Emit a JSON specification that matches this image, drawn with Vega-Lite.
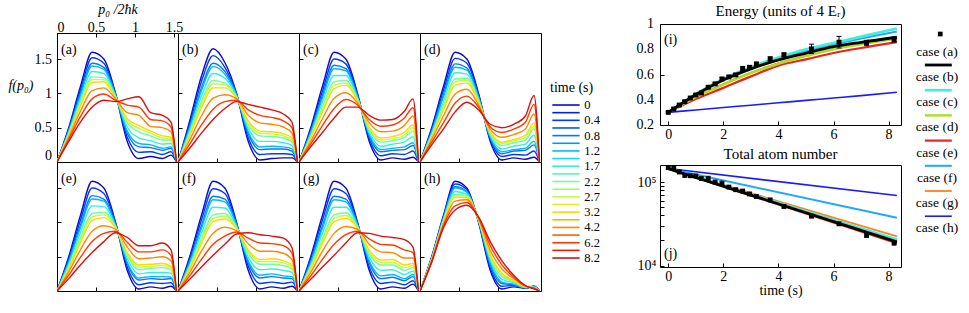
{
"$schema":"https://vega.github.io/schema/vega-lite/v6.json",
"padding":{"left":7,"top":1,"right":4,"bottom":0},
"config":{
"font":"Liberation Serif",
"view":{"stroke":"#000","strokeWidth":1},
"axis":{"domain":false,"grid":false,"ticks":true,"tickSize":-4,"tickColor":"#000","tickWidth":1,"labelColor":"#000","labelFontSize":14,"labelFont":"Liberation Serif","titleFont":"Liberation Serif","titleFontSize":14,"titleFontWeight":"normal","titleColor":"#000","labelOverlap":false},
"title":{"font":"Liberation Serif","fontSize":15,"fontWeight":"normal","color":"#000"},
"line":{"interpolate":"monotone"},
"text":{"font":"Liberation Serif","color":"#000"}
},
"datasets":{
"a":[
{"t":0,"p":0,"f":0},{"t":0,"p":0.15,"f":0.5},{"t":0,"p":0.3,"f":1.1},{"t":0,"p":0.45,"f":1.6},{"t":0,"p":0.6,"f":1.5},{"t":0,"p":0.75,"f":1.0},{"t":0,"p":0.9,"f":0.3},{"t":0,"p":1.05,"f":0.05},{"t":0,"p":1.2,"f":0.08},{"t":0,"p":1.35,"f":0.05},{"t":0,"p":1.46,"f":0.1},{"t":0,"p":1.53,"f":0},
{"t":0.4,"p":0,"f":0},{"t":0.4,"p":0.15,"f":0.48},{"t":0.4,"p":0.3,"f":1.05},{"t":0.4,"p":0.45,"f":1.52},{"t":0.4,"p":0.6,"f":1.44},{"t":0.4,"p":0.75,"f":0.99},{"t":0.4,"p":0.9,"f":0.36},{"t":0.4,"p":1.05,"f":0.14},{"t":0.4,"p":1.2,"f":0.15},{"t":0.4,"p":1.35,"f":0.11},{"t":0.4,"p":1.46,"f":0.15},{"t":0.4,"p":1.53,"f":0},
{"t":0.8,"p":0,"f":0},{"t":0.8,"p":0.15,"f":0.46},{"t":0.8,"p":0.3,"f":1.0},{"t":0.8,"p":0.45,"f":1.44},{"t":0.8,"p":0.6,"f":1.38},{"t":0.8,"p":0.75,"f":0.98},{"t":0.8,"p":0.9,"f":0.42},{"t":0.8,"p":1.05,"f":0.22},{"t":0.8,"p":1.2,"f":0.21},{"t":0.8,"p":1.35,"f":0.17},{"t":0.8,"p":1.46,"f":0.2},{"t":0.8,"p":1.53,"f":0},
{"t":1.2,"p":0,"f":0},{"t":1.2,"p":0.15,"f":0.45},{"t":1.2,"p":0.3,"f":0.97},{"t":1.2,"p":0.45,"f":1.4},{"t":1.2,"p":0.6,"f":1.35},{"t":1.2,"p":0.75,"f":0.97},{"t":1.2,"p":0.9,"f":0.45},{"t":1.2,"p":1.05,"f":0.27},{"t":1.2,"p":1.2,"f":0.25},{"t":1.2,"p":1.35,"f":0.2},{"t":1.2,"p":1.46,"f":0.22},{"t":1.2,"p":1.53,"f":0},
{"t":1.7,"p":0,"f":0},{"t":1.7,"p":0.15,"f":0.43},{"t":1.7,"p":0.3,"f":0.92},{"t":1.7,"p":0.45,"f":1.32},{"t":1.7,"p":0.6,"f":1.29},{"t":1.7,"p":0.75,"f":0.96},{"t":1.7,"p":0.9,"f":0.51},{"t":1.7,"p":1.05,"f":0.35},{"t":1.7,"p":1.2,"f":0.31},{"t":1.7,"p":1.35,"f":0.26},{"t":1.7,"p":1.46,"f":0.27},{"t":1.7,"p":1.53,"f":0},
{"t":2.2,"p":0,"f":0},{"t":2.2,"p":0.15,"f":0.41},{"t":2.2,"p":0.3,"f":0.87},{"t":2.2,"p":0.45,"f":1.24},{"t":2.2,"p":0.6,"f":1.23},{"t":2.2,"p":0.75,"f":0.95},{"t":2.2,"p":0.9,"f":0.57},{"t":2.2,"p":1.05,"f":0.44},{"t":2.2,"p":1.2,"f":0.38},{"t":2.2,"p":1.35,"f":0.32},{"t":2.2,"p":1.46,"f":0.32},{"t":2.2,"p":1.53,"f":0},
{"t":2.7,"p":0,"f":0},{"t":2.7,"p":0.15,"f":0.4},{"t":2.7,"p":0.3,"f":0.84},{"t":2.7,"p":0.45,"f":1.2},{"t":2.7,"p":0.6,"f":1.2},{"t":2.7,"p":0.75,"f":0.94},{"t":2.7,"p":0.9,"f":0.6},{"t":2.7,"p":1.05,"f":0.49},{"t":2.7,"p":1.2,"f":0.42},{"t":2.7,"p":1.35,"f":0.35},{"t":2.7,"p":1.46,"f":0.34},{"t":2.7,"p":1.53,"f":0},
{"t":3.2,"p":0,"f":0},{"t":3.2,"p":0.15,"f":0.39},{"t":3.2,"p":0.3,"f":0.81},{"t":3.2,"p":0.45,"f":1.16},{"t":3.2,"p":0.6,"f":1.17},{"t":3.2,"p":0.75,"f":0.93},{"t":3.2,"p":0.9,"f":0.63},{"t":3.2,"p":1.05,"f":0.53},{"t":3.2,"p":1.2,"f":0.45},{"t":3.2,"p":1.35,"f":0.38},{"t":3.2,"p":1.46,"f":0.36},{"t":3.2,"p":1.53,"f":0},
{"t":4.2,"p":0,"f":0},{"t":4.2,"p":0.15,"f":0.36},{"t":4.2,"p":0.3,"f":0.74},{"t":4.2,"p":0.45,"f":1.04},{"t":4.2,"p":0.6,"f":1.08},{"t":4.2,"p":0.75,"f":0.92},{"t":4.2,"p":0.9,"f":0.72},{"t":4.2,"p":1.05,"f":0.68},{"t":4.2,"p":1.2,"f":0.52},{"t":4.2,"p":1.35,"f":0.5},{"t":4.2,"p":1.46,"f":0.44},{"t":4.2,"p":1.53,"f":0},
{"t":6.2,"p":0,"f":0},{"t":6.2,"p":0.15,"f":0.33},{"t":6.2,"p":0.3,"f":0.66},{"t":6.2,"p":0.45,"f":0.92},{"t":6.2,"p":0.6,"f":0.99},{"t":6.2,"p":0.75,"f":0.9},{"t":6.2,"p":0.9,"f":0.83},{"t":6.2,"p":1.05,"f":0.8},{"t":6.2,"p":1.2,"f":0.62},{"t":6.2,"p":1.35,"f":0.6},{"t":6.2,"p":1.46,"f":0.51},{"t":6.2,"p":1.53,"f":0},
{"t":8.2,"p":0,"f":0},{"t":8.2,"p":0.15,"f":0.3},{"t":8.2,"p":0.3,"f":0.58},{"t":8.2,"p":0.45,"f":0.8},{"t":8.2,"p":0.6,"f":0.9},{"t":8.2,"p":0.75,"f":0.88},{"t":8.2,"p":0.9,"f":0.92},{"t":8.2,"p":1.05,"f":0.95},{"t":8.2,"p":1.2,"f":0.72},{"t":8.2,"p":1.35,"f":0.68},{"t":8.2,"p":1.46,"f":0.58},{"t":8.2,"p":1.53,"f":0}
],
"b":[
{"t":0,"p":0,"f":0},{"t":0,"p":0.15,"f":0.6},{"t":0,"p":0.3,"f":1.25},{"t":0,"p":0.45,"f":1.65},{"t":0,"p":0.6,"f":1.45},{"t":0,"p":0.75,"f":1.0},{"t":0,"p":0.9,"f":0.3},{"t":0,"p":1.05,"f":0.03},{"t":0,"p":1.2,"f":0.05},{"t":0,"p":1.35,"f":0.06},{"t":0,"p":1.46,"f":0.06},{"t":0,"p":1.53,"f":0},
{"t":0.4,"p":0,"f":0},{"t":0.4,"p":0.15,"f":0.56},{"t":0.4,"p":0.3,"f":1.17},{"t":0.4,"p":0.45,"f":1.55},{"t":0.4,"p":0.6,"f":1.38},{"t":0.4,"p":0.75,"f":0.99},{"t":0.4,"p":0.9,"f":0.35},{"t":0.4,"p":1.05,"f":0.11},{"t":0.4,"p":1.2,"f":0.12},{"t":0.4,"p":1.35,"f":0.12},{"t":0.4,"p":1.46,"f":0.11},{"t":0.4,"p":1.53,"f":0},
{"t":0.8,"p":0,"f":0},{"t":0.8,"p":0.15,"f":0.52},{"t":0.8,"p":0.3,"f":1.08},{"t":0.8,"p":0.45,"f":1.44},{"t":0.8,"p":0.6,"f":1.32},{"t":0.8,"p":0.75,"f":0.98},{"t":0.8,"p":0.9,"f":0.41},{"t":0.8,"p":1.05,"f":0.18},{"t":0.8,"p":1.2,"f":0.19},{"t":0.8,"p":1.35,"f":0.19},{"t":0.8,"p":1.46,"f":0.16},{"t":0.8,"p":1.53,"f":0},
{"t":1.2,"p":0,"f":0},{"t":1.2,"p":0.15,"f":0.5},{"t":1.2,"p":0.3,"f":1.04},{"t":1.2,"p":0.45,"f":1.39},{"t":1.2,"p":0.6,"f":1.28},{"t":1.2,"p":0.75,"f":0.97},{"t":1.2,"p":0.9,"f":0.44},{"t":1.2,"p":1.05,"f":0.22},{"t":1.2,"p":1.2,"f":0.23},{"t":1.2,"p":1.35,"f":0.22},{"t":1.2,"p":1.46,"f":0.19},{"t":1.2,"p":1.53,"f":0},
{"t":1.7,"p":0,"f":0},{"t":1.7,"p":0.15,"f":0.46},{"t":1.7,"p":0.3,"f":0.96},{"t":1.7,"p":0.45,"f":1.29},{"t":1.7,"p":0.6,"f":1.22},{"t":1.7,"p":0.75,"f":0.96},{"t":1.7,"p":0.9,"f":0.49},{"t":1.7,"p":1.05,"f":0.3},{"t":1.7,"p":1.2,"f":0.3},{"t":1.7,"p":1.35,"f":0.28},{"t":1.7,"p":1.46,"f":0.24},{"t":1.7,"p":1.53,"f":0},
{"t":2.2,"p":0,"f":0},{"t":2.2,"p":0.15,"f":0.42},{"t":2.2,"p":0.3,"f":0.88},{"t":2.2,"p":0.45,"f":1.19},{"t":2.2,"p":0.6,"f":1.15},{"t":2.2,"p":0.75,"f":0.95},{"t":2.2,"p":0.9,"f":0.54},{"t":2.2,"p":1.05,"f":0.38},{"t":2.2,"p":1.2,"f":0.37},{"t":2.2,"p":1.35,"f":0.35},{"t":2.2,"p":1.46,"f":0.29},{"t":2.2,"p":1.53,"f":0},
{"t":2.7,"p":0,"f":0},{"t":2.7,"p":0.15,"f":0.4},{"t":2.7,"p":0.3,"f":0.84},{"t":2.7,"p":0.45,"f":1.14},{"t":2.7,"p":0.6,"f":1.12},{"t":2.7,"p":0.75,"f":0.94},{"t":2.7,"p":0.9,"f":0.57},{"t":2.7,"p":1.05,"f":0.42},{"t":2.7,"p":1.2,"f":0.41},{"t":2.7,"p":1.35,"f":0.38},{"t":2.7,"p":1.46,"f":0.32},{"t":2.7,"p":1.53,"f":0},
{"t":3.2,"p":0,"f":0},{"t":3.2,"p":0.15,"f":0.38},{"t":3.2,"p":0.3,"f":0.79},{"t":3.2,"p":0.45,"f":1.08},{"t":3.2,"p":0.6,"f":1.08},{"t":3.2,"p":0.75,"f":0.93},{"t":3.2,"p":0.9,"f":0.6},{"t":3.2,"p":1.05,"f":0.45},{"t":3.2,"p":1.2,"f":0.44},{"t":3.2,"p":1.35,"f":0.41},{"t":3.2,"p":1.46,"f":0.35},{"t":3.2,"p":1.53,"f":0},
{"t":4.2,"p":0,"f":0},{"t":4.2,"p":0.15,"f":0.32},{"t":4.2,"p":0.3,"f":0.67},{"t":4.2,"p":0.45,"f":0.93},{"t":4.2,"p":0.6,"f":0.98},{"t":4.2,"p":0.75,"f":0.92},{"t":4.2,"p":0.9,"f":0.68},{"t":4.2,"p":1.05,"f":0.57},{"t":4.2,"p":1.2,"f":0.55},{"t":4.2,"p":1.35,"f":0.51},{"t":4.2,"p":1.46,"f":0.42},{"t":4.2,"p":1.53,"f":0},
{"t":6.2,"p":0,"f":0},{"t":6.2,"p":0.15,"f":0.26},{"t":6.2,"p":0.3,"f":0.54},{"t":6.2,"p":0.45,"f":0.77},{"t":6.2,"p":0.6,"f":0.88},{"t":6.2,"p":0.75,"f":0.9},{"t":6.2,"p":0.9,"f":0.76},{"t":6.2,"p":1.05,"f":0.68},{"t":6.2,"p":1.2,"f":0.65},{"t":6.2,"p":1.35,"f":0.6},{"t":6.2,"p":1.46,"f":0.5},{"t":6.2,"p":1.53,"f":0},
{"t":8.2,"p":0,"f":0},{"t":8.2,"p":0.15,"f":0.2},{"t":8.2,"p":0.3,"f":0.42},{"t":8.2,"p":0.45,"f":0.62},{"t":8.2,"p":0.6,"f":0.78},{"t":8.2,"p":0.75,"f":0.88},{"t":8.2,"p":0.9,"f":0.84},{"t":8.2,"p":1.05,"f":0.8},{"t":8.2,"p":1.2,"f":0.76},{"t":8.2,"p":1.35,"f":0.7},{"t":8.2,"p":1.46,"f":0.58},{"t":8.2,"p":1.53,"f":0}
],
"c":[
{"t":0,"p":0,"f":0},{"t":0,"p":0.15,"f":0.5},{"t":0,"p":0.3,"f":1.1},{"t":0,"p":0.45,"f":1.6},{"t":0,"p":0.6,"f":1.5},{"t":0,"p":0.75,"f":1.0},{"t":0,"p":0.9,"f":0.3},{"t":0,"p":1.05,"f":0.03},{"t":0,"p":1.2,"f":0.06},{"t":0,"p":1.35,"f":0.04},{"t":0,"p":1.46,"f":0.07},{"t":0,"p":1.53,"f":0},
{"t":0.4,"p":0,"f":0},{"t":0.4,"p":0.15,"f":0.47},{"t":0.4,"p":0.3,"f":1.03},{"t":0.4,"p":0.45,"f":1.5},{"t":0.4,"p":0.6,"f":1.43},{"t":0.4,"p":0.75,"f":0.98},{"t":0.4,"p":0.9,"f":0.34},{"t":0.4,"p":1.05,"f":0.09},{"t":0.4,"p":1.2,"f":0.12},{"t":0.4,"p":1.35,"f":0.11},{"t":0.4,"p":1.46,"f":0.16},{"t":0.4,"p":1.53,"f":0},
{"t":0.8,"p":0,"f":0},{"t":0.8,"p":0.15,"f":0.44},{"t":0.8,"p":0.3,"f":0.97},{"t":0.8,"p":0.45,"f":1.41},{"t":0.8,"p":0.6,"f":1.36},{"t":0.8,"p":0.75,"f":0.96},{"t":0.8,"p":0.9,"f":0.38},{"t":0.8,"p":1.05,"f":0.15},{"t":0.8,"p":1.2,"f":0.17},{"t":0.8,"p":1.35,"f":0.18},{"t":0.8,"p":1.46,"f":0.24},{"t":0.8,"p":1.53,"f":0},
{"t":1.2,"p":0,"f":0},{"t":1.2,"p":0.15,"f":0.43},{"t":1.2,"p":0.3,"f":0.93},{"t":1.2,"p":0.45,"f":1.36},{"t":1.2,"p":0.6,"f":1.33},{"t":1.2,"p":0.75,"f":0.95},{"t":1.2,"p":0.9,"f":0.4},{"t":1.2,"p":1.05,"f":0.18},{"t":1.2,"p":1.2,"f":0.2},{"t":1.2,"p":1.35,"f":0.22},{"t":1.2,"p":1.46,"f":0.28},{"t":1.2,"p":1.53,"f":0},
{"t":1.7,"p":0,"f":0},{"t":1.7,"p":0.15,"f":0.4},{"t":1.7,"p":0.3,"f":0.87},{"t":1.7,"p":0.45,"f":1.26},{"t":1.7,"p":0.6,"f":1.26},{"t":1.7,"p":0.75,"f":0.93},{"t":1.7,"p":0.9,"f":0.43},{"t":1.7,"p":1.05,"f":0.23},{"t":1.7,"p":1.2,"f":0.26},{"t":1.7,"p":1.35,"f":0.29},{"t":1.7,"p":1.46,"f":0.37},{"t":1.7,"p":1.53,"f":0},
{"t":2.2,"p":0,"f":0},{"t":2.2,"p":0.15,"f":0.37},{"t":2.2,"p":0.3,"f":0.8},{"t":2.2,"p":0.45,"f":1.17},{"t":2.2,"p":0.6,"f":1.19},{"t":2.2,"p":0.75,"f":0.91},{"t":2.2,"p":0.9,"f":0.47},{"t":2.2,"p":1.05,"f":0.29},{"t":2.2,"p":1.2,"f":0.31},{"t":2.2,"p":1.35,"f":0.36},{"t":2.2,"p":1.46,"f":0.45},{"t":2.2,"p":1.53,"f":0},
{"t":2.7,"p":0,"f":0},{"t":2.7,"p":0.15,"f":0.36},{"t":2.7,"p":0.3,"f":0.77},{"t":2.7,"p":0.45,"f":1.12},{"t":2.7,"p":0.6,"f":1.15},{"t":2.7,"p":0.75,"f":0.9},{"t":2.7,"p":0.9,"f":0.49},{"t":2.7,"p":1.05,"f":0.32},{"t":2.7,"p":1.2,"f":0.34},{"t":2.7,"p":1.35,"f":0.39},{"t":2.7,"p":1.46,"f":0.5},{"t":2.7,"p":1.53,"f":0},
{"t":3.2,"p":0,"f":0},{"t":3.2,"p":0.15,"f":0.35},{"t":3.2,"p":0.3,"f":0.73},{"t":3.2,"p":0.45,"f":1.07},{"t":3.2,"p":0.6,"f":1.12},{"t":3.2,"p":0.75,"f":0.89},{"t":3.2,"p":0.9,"f":0.51},{"t":3.2,"p":1.05,"f":0.35},{"t":3.2,"p":1.2,"f":0.37},{"t":3.2,"p":1.35,"f":0.43},{"t":3.2,"p":1.46,"f":0.54},{"t":3.2,"p":1.53,"f":0},
{"t":4.2,"p":0,"f":0},{"t":4.2,"p":0.15,"f":0.3},{"t":4.2,"p":0.3,"f":0.63},{"t":4.2,"p":0.45,"f":0.93},{"t":4.2,"p":0.6,"f":1.01},{"t":4.2,"p":0.75,"f":0.86},{"t":4.2,"p":0.9,"f":0.57},{"t":4.2,"p":1.05,"f":0.44},{"t":4.2,"p":1.2,"f":0.45},{"t":4.2,"p":1.35,"f":0.53},{"t":4.2,"p":1.46,"f":0.67},{"t":4.2,"p":1.53,"f":0},
{"t":6.2,"p":0,"f":0},{"t":6.2,"p":0.15,"f":0.26},{"t":6.2,"p":0.3,"f":0.53},{"t":6.2,"p":0.45,"f":0.78},{"t":6.2,"p":0.6,"f":0.91},{"t":6.2,"p":0.75,"f":0.83},{"t":6.2,"p":0.9,"f":0.62},{"t":6.2,"p":1.05,"f":0.52},{"t":6.2,"p":1.2,"f":0.54},{"t":6.2,"p":1.35,"f":0.64},{"t":6.2,"p":1.46,"f":0.79},{"t":6.2,"p":1.53,"f":0},
{"t":8.2,"p":0,"f":0},{"t":8.2,"p":0.15,"f":0.22},{"t":8.2,"p":0.3,"f":0.43},{"t":8.2,"p":0.45,"f":0.64},{"t":8.2,"p":0.6,"f":0.8},{"t":8.2,"p":0.75,"f":0.8},{"t":8.2,"p":0.9,"f":0.68},{"t":8.2,"p":1.05,"f":0.61},{"t":8.2,"p":1.2,"f":0.62},{"t":8.2,"p":1.35,"f":0.74},{"t":8.2,"p":1.46,"f":0.92},{"t":8.2,"p":1.53,"f":0}
],
"d":[
{"t":0,"p":0,"f":0},{"t":0,"p":0.15,"f":0.5},{"t":0,"p":0.3,"f":1.1},{"t":0,"p":0.45,"f":1.6},{"t":0,"p":0.6,"f":1.5},{"t":0,"p":0.75,"f":1.0},{"t":0,"p":0.9,"f":0.3},{"t":0,"p":1.05,"f":0.03},{"t":0,"p":1.2,"f":0.06},{"t":0,"p":1.35,"f":0.04},{"t":0,"p":1.46,"f":0.07},{"t":0,"p":1.53,"f":0},
{"t":0.4,"p":0,"f":0},{"t":0.4,"p":0.15,"f":0.48},{"t":0.4,"p":0.3,"f":1.04},{"t":0.4,"p":0.45,"f":1.51},{"t":0.4,"p":0.6,"f":1.44},{"t":0.4,"p":0.75,"f":0.98},{"t":0.4,"p":0.9,"f":0.33},{"t":0.4,"p":1.05,"f":0.08},{"t":0.4,"p":1.2,"f":0.11},{"t":0.4,"p":1.35,"f":0.1},{"t":0.4,"p":1.46,"f":0.16},{"t":0.4,"p":1.53,"f":0},
{"t":0.8,"p":0,"f":0},{"t":0.8,"p":0.15,"f":0.45},{"t":0.8,"p":0.3,"f":0.98},{"t":0.8,"p":0.45,"f":1.43},{"t":0.8,"p":0.6,"f":1.37},{"t":0.8,"p":0.75,"f":0.95},{"t":0.8,"p":0.9,"f":0.35},{"t":0.8,"p":1.05,"f":0.12},{"t":0.8,"p":1.2,"f":0.16},{"t":0.8,"p":1.35,"f":0.17},{"t":0.8,"p":1.46,"f":0.25},{"t":0.8,"p":1.53,"f":0},
{"t":1.2,"p":0,"f":0},{"t":1.2,"p":0.15,"f":0.44},{"t":1.2,"p":0.3,"f":0.95},{"t":1.2,"p":0.45,"f":1.38},{"t":1.2,"p":0.6,"f":1.34},{"t":1.2,"p":0.75,"f":0.94},{"t":1.2,"p":0.9,"f":0.36},{"t":1.2,"p":1.05,"f":0.15},{"t":1.2,"p":1.2,"f":0.18},{"t":1.2,"p":1.35,"f":0.2},{"t":1.2,"p":1.46,"f":0.3},{"t":1.2,"p":1.53,"f":0},
{"t":1.7,"p":0,"f":0},{"t":1.7,"p":0.15,"f":0.41},{"t":1.7,"p":0.3,"f":0.88},{"t":1.7,"p":0.45,"f":1.3},{"t":1.7,"p":0.6,"f":1.28},{"t":1.7,"p":0.75,"f":0.92},{"t":1.7,"p":0.9,"f":0.39},{"t":1.7,"p":1.05,"f":0.19},{"t":1.7,"p":1.2,"f":0.23},{"t":1.7,"p":1.35,"f":0.26},{"t":1.7,"p":1.46,"f":0.39},{"t":1.7,"p":1.53,"f":0},
{"t":2.2,"p":0,"f":0},{"t":2.2,"p":0.15,"f":0.39},{"t":2.2,"p":0.3,"f":0.82},{"t":2.2,"p":0.45,"f":1.21},{"t":2.2,"p":0.6,"f":1.22},{"t":2.2,"p":0.75,"f":0.89},{"t":2.2,"p":0.9,"f":0.41},{"t":2.2,"p":1.05,"f":0.24},{"t":2.2,"p":1.2,"f":0.28},{"t":2.2,"p":1.35,"f":0.32},{"t":2.2,"p":1.46,"f":0.48},{"t":2.2,"p":1.53,"f":0},
{"t":2.7,"p":0,"f":0},{"t":2.7,"p":0.15,"f":0.38},{"t":2.7,"p":0.3,"f":0.79},{"t":2.7,"p":0.45,"f":1.17},{"t":2.7,"p":0.6,"f":1.19},{"t":2.7,"p":0.75,"f":0.88},{"t":2.7,"p":0.9,"f":0.43},{"t":2.7,"p":1.05,"f":0.27},{"t":2.7,"p":1.2,"f":0.31},{"t":2.7,"p":1.35,"f":0.36},{"t":2.7,"p":1.46,"f":0.52},{"t":2.7,"p":1.53,"f":0},
{"t":3.2,"p":0,"f":0},{"t":3.2,"p":0.15,"f":0.36},{"t":3.2,"p":0.3,"f":0.76},{"t":3.2,"p":0.45,"f":1.12},{"t":3.2,"p":0.6,"f":1.15},{"t":3.2,"p":0.75,"f":0.87},{"t":3.2,"p":0.9,"f":0.44},{"t":3.2,"p":1.05,"f":0.29},{"t":3.2,"p":1.2,"f":0.33},{"t":3.2,"p":1.35,"f":0.39},{"t":3.2,"p":1.46,"f":0.57},{"t":3.2,"p":1.53,"f":0},
{"t":4.2,"p":0,"f":0},{"t":4.2,"p":0.15,"f":0.33},{"t":4.2,"p":0.3,"f":0.67},{"t":4.2,"p":0.45,"f":0.99},{"t":4.2,"p":0.6,"f":1.06},{"t":4.2,"p":0.75,"f":0.83},{"t":4.2,"p":0.9,"f":0.48},{"t":4.2,"p":1.05,"f":0.36},{"t":4.2,"p":1.2,"f":0.4},{"t":4.2,"p":1.35,"f":0.48},{"t":4.2,"p":1.46,"f":0.7},{"t":4.2,"p":1.53,"f":0},
{"t":6.2,"p":0,"f":0},{"t":6.2,"p":0.15,"f":0.29},{"t":6.2,"p":0.3,"f":0.57},{"t":6.2,"p":0.45,"f":0.86},{"t":6.2,"p":0.6,"f":0.96},{"t":6.2,"p":0.75,"f":0.8},{"t":6.2,"p":0.9,"f":0.51},{"t":6.2,"p":1.05,"f":0.43},{"t":6.2,"p":1.2,"f":0.48},{"t":6.2,"p":1.35,"f":0.58},{"t":6.2,"p":1.46,"f":0.84},{"t":6.2,"p":1.53,"f":0},
{"t":8.2,"p":0,"f":0},{"t":8.2,"p":0.15,"f":0.25},{"t":8.2,"p":0.3,"f":0.48},{"t":8.2,"p":0.45,"f":0.73},{"t":8.2,"p":0.6,"f":0.87},{"t":8.2,"p":0.75,"f":0.76},{"t":8.2,"p":0.9,"f":0.55},{"t":8.2,"p":1.05,"f":0.5},{"t":8.2,"p":1.2,"f":0.55},{"t":8.2,"p":1.35,"f":0.67},{"t":8.2,"p":1.46,"f":0.97},{"t":8.2,"p":1.53,"f":0}
],
"e":[
{"t":0,"p":0,"f":0},{"t":0,"p":0.15,"f":0.5},{"t":0,"p":0.3,"f":1.1},{"t":0,"p":0.45,"f":1.6},{"t":0,"p":0.6,"f":1.5},{"t":0,"p":0.75,"f":1.0},{"t":0,"p":0.9,"f":0.3},{"t":0,"p":1.05,"f":0.03},{"t":0,"p":1.2,"f":0.06},{"t":0,"p":1.35,"f":0.04},{"t":0,"p":1.46,"f":0.07},{"t":0,"p":1.53,"f":0},
{"t":0.4,"p":0,"f":0},{"t":0.4,"p":0.15,"f":0.47},{"t":0.4,"p":0.3,"f":1.03},{"t":0.4,"p":0.45,"f":1.5},{"t":0.4,"p":0.6,"f":1.42},{"t":0.4,"p":0.75,"f":0.99},{"t":0.4,"p":0.9,"f":0.35},{"t":0.4,"p":1.05,"f":0.09},{"t":0.4,"p":1.2,"f":0.12},{"t":0.4,"p":1.35,"f":0.11},{"t":0.4,"p":1.46,"f":0.12},{"t":0.4,"p":1.53,"f":0},
{"t":0.8,"p":0,"f":0},{"t":0.8,"p":0.15,"f":0.44},{"t":0.8,"p":0.3,"f":0.96},{"t":0.8,"p":0.45,"f":1.39},{"t":0.8,"p":0.6,"f":1.34},{"t":0.8,"p":0.75,"f":0.97},{"t":0.8,"p":0.9,"f":0.4},{"t":0.8,"p":1.05,"f":0.16},{"t":0.8,"p":1.2,"f":0.18},{"t":0.8,"p":1.35,"f":0.17},{"t":0.8,"p":1.46,"f":0.18},{"t":0.8,"p":1.53,"f":0},
{"t":1.2,"p":0,"f":0},{"t":1.2,"p":0.15,"f":0.42},{"t":1.2,"p":0.3,"f":0.92},{"t":1.2,"p":0.45,"f":1.34},{"t":1.2,"p":0.6,"f":1.31},{"t":1.2,"p":0.75,"f":0.96},{"t":1.2,"p":0.9,"f":0.42},{"t":1.2,"p":1.05,"f":0.19},{"t":1.2,"p":1.2,"f":0.21},{"t":1.2,"p":1.35,"f":0.21},{"t":1.2,"p":1.46,"f":0.2},{"t":1.2,"p":1.53,"f":0},
{"t":1.7,"p":0,"f":0},{"t":1.7,"p":0.15,"f":0.39},{"t":1.7,"p":0.3,"f":0.85},{"t":1.7,"p":0.45,"f":1.24},{"t":1.7,"p":0.6,"f":1.23},{"t":1.7,"p":0.75,"f":0.95},{"t":1.7,"p":0.9,"f":0.47},{"t":1.7,"p":1.05,"f":0.25},{"t":1.7,"p":1.2,"f":0.27},{"t":1.7,"p":1.35,"f":0.27},{"t":1.7,"p":1.46,"f":0.26},{"t":1.7,"p":1.53,"f":0},
{"t":2.2,"p":0,"f":0},{"t":2.2,"p":0.15,"f":0.36},{"t":2.2,"p":0.3,"f":0.78},{"t":2.2,"p":0.45,"f":1.13},{"t":2.2,"p":0.6,"f":1.15},{"t":2.2,"p":0.75,"f":0.93},{"t":2.2,"p":0.9,"f":0.52},{"t":2.2,"p":1.05,"f":0.31},{"t":2.2,"p":1.2,"f":0.33},{"t":2.2,"p":1.35,"f":0.34},{"t":2.2,"p":1.46,"f":0.31},{"t":2.2,"p":1.53,"f":0},
{"t":2.7,"p":0,"f":0},{"t":2.7,"p":0.15,"f":0.34},{"t":2.7,"p":0.3,"f":0.74},{"t":2.7,"p":0.45,"f":1.08},{"t":2.7,"p":0.6,"f":1.11},{"t":2.7,"p":0.75,"f":0.93},{"t":2.7,"p":0.9,"f":0.54},{"t":2.7,"p":1.05,"f":0.35},{"t":2.7,"p":1.2,"f":0.36},{"t":2.7,"p":1.35,"f":0.37},{"t":2.7,"p":1.46,"f":0.34},{"t":2.7,"p":1.53,"f":0},
{"t":3.2,"p":0,"f":0},{"t":3.2,"p":0.15,"f":0.32},{"t":3.2,"p":0.3,"f":0.7},{"t":3.2,"p":0.45,"f":1.03},{"t":3.2,"p":0.6,"f":1.07},{"t":3.2,"p":0.75,"f":0.92},{"t":3.2,"p":0.9,"f":0.56},{"t":3.2,"p":1.05,"f":0.38},{"t":3.2,"p":1.2,"f":0.39},{"t":3.2,"p":1.35,"f":0.4},{"t":3.2,"p":1.46,"f":0.36},{"t":3.2,"p":1.53,"f":0},
{"t":4.2,"p":0,"f":0},{"t":4.2,"p":0.15,"f":0.28},{"t":4.2,"p":0.3,"f":0.6},{"t":4.2,"p":0.45,"f":0.87},{"t":4.2,"p":0.6,"f":0.95},{"t":4.2,"p":0.75,"f":0.9},{"t":4.2,"p":0.9,"f":0.64},{"t":4.2,"p":1.05,"f":0.47},{"t":4.2,"p":1.2,"f":0.48},{"t":4.2,"p":1.35,"f":0.5},{"t":4.2,"p":1.46,"f":0.44},{"t":4.2,"p":1.53,"f":0},
{"t":6.2,"p":0,"f":0},{"t":6.2,"p":0.15,"f":0.23},{"t":6.2,"p":0.3,"f":0.49},{"t":6.2,"p":0.45,"f":0.72},{"t":6.2,"p":0.6,"f":0.84},{"t":6.2,"p":0.75,"f":0.87},{"t":6.2,"p":0.9,"f":0.71},{"t":6.2,"p":1.05,"f":0.57},{"t":6.2,"p":1.2,"f":0.57},{"t":6.2,"p":1.35,"f":0.6},{"t":6.2,"p":1.46,"f":0.52},{"t":6.2,"p":1.53,"f":0},
{"t":8.2,"p":0,"f":0},{"t":8.2,"p":0.15,"f":0.18},{"t":8.2,"p":0.3,"f":0.38},{"t":8.2,"p":0.45,"f":0.56},{"t":8.2,"p":0.6,"f":0.72},{"t":8.2,"p":0.75,"f":0.85},{"t":8.2,"p":0.9,"f":0.78},{"t":8.2,"p":1.05,"f":0.66},{"t":8.2,"p":1.2,"f":0.66},{"t":8.2,"p":1.35,"f":0.7},{"t":8.2,"p":1.46,"f":0.6},{"t":8.2,"p":1.53,"f":0}
],
"f":[
{"t":0,"p":0,"f":0},{"t":0,"p":0.15,"f":0.5},{"t":0,"p":0.3,"f":1.1},{"t":0,"p":0.45,"f":1.6},{"t":0,"p":0.6,"f":1.5},{"t":0,"p":0.75,"f":1.0},{"t":0,"p":0.9,"f":0.3},{"t":0,"p":1.05,"f":0.03},{"t":0,"p":1.2,"f":0.06},{"t":0,"p":1.35,"f":0.04},{"t":0,"p":1.46,"f":0.07},{"t":0,"p":1.53,"f":0},
{"t":0.4,"p":0,"f":0},{"t":0.4,"p":0.15,"f":0.47},{"t":0.4,"p":0.3,"f":1.03},{"t":0.4,"p":0.45,"f":1.49},{"t":0.4,"p":0.6,"f":1.42},{"t":0.4,"p":0.75,"f":0.98},{"t":0.4,"p":0.9,"f":0.36},{"t":0.4,"p":1.05,"f":0.11},{"t":0.4,"p":1.2,"f":0.13},{"t":0.4,"p":1.35,"f":0.11},{"t":0.4,"p":1.46,"f":0.13},{"t":0.4,"p":1.53,"f":0},
{"t":0.8,"p":0,"f":0},{"t":0.8,"p":0.15,"f":0.43},{"t":0.8,"p":0.3,"f":0.95},{"t":0.8,"p":0.45,"f":1.38},{"t":0.8,"p":0.6,"f":1.34},{"t":0.8,"p":0.75,"f":0.97},{"t":0.8,"p":0.9,"f":0.41},{"t":0.8,"p":1.05,"f":0.19},{"t":0.8,"p":1.2,"f":0.21},{"t":0.8,"p":1.35,"f":0.19},{"t":0.8,"p":1.46,"f":0.18},{"t":0.8,"p":1.53,"f":0},
{"t":1.2,"p":0,"f":0},{"t":1.2,"p":0.15,"f":0.42},{"t":1.2,"p":0.3,"f":0.91},{"t":1.2,"p":0.45,"f":1.33},{"t":1.2,"p":0.6,"f":1.3},{"t":1.2,"p":0.75,"f":0.96},{"t":1.2,"p":0.9,"f":0.44},{"t":1.2,"p":1.05,"f":0.23},{"t":1.2,"p":1.2,"f":0.25},{"t":1.2,"p":1.35,"f":0.22},{"t":1.2,"p":1.46,"f":0.21},{"t":1.2,"p":1.53,"f":0},
{"t":1.7,"p":0,"f":0},{"t":1.7,"p":0.15,"f":0.38},{"t":1.7,"p":0.3,"f":0.84},{"t":1.7,"p":0.45,"f":1.22},{"t":1.7,"p":0.6,"f":1.21},{"t":1.7,"p":0.75,"f":0.94},{"t":1.7,"p":0.9,"f":0.49},{"t":1.7,"p":1.05,"f":0.31},{"t":1.7,"p":1.2,"f":0.32},{"t":1.7,"p":1.35,"f":0.3},{"t":1.7,"p":1.46,"f":0.27},{"t":1.7,"p":1.53,"f":0},
{"t":2.2,"p":0,"f":0},{"t":2.2,"p":0.15,"f":0.35},{"t":2.2,"p":0.3,"f":0.76},{"t":2.2,"p":0.45,"f":1.11},{"t":2.2,"p":0.6,"f":1.13},{"t":2.2,"p":0.75,"f":0.92},{"t":2.2,"p":0.9,"f":0.55},{"t":2.2,"p":1.05,"f":0.39},{"t":2.2,"p":1.2,"f":0.39},{"t":2.2,"p":1.35,"f":0.37},{"t":2.2,"p":1.46,"f":0.32},{"t":2.2,"p":1.53,"f":0},
{"t":2.7,"p":0,"f":0},{"t":2.7,"p":0.15,"f":0.34},{"t":2.7,"p":0.3,"f":0.73},{"t":2.7,"p":0.45,"f":1.06},{"t":2.7,"p":0.6,"f":1.09},{"t":2.7,"p":0.75,"f":0.92},{"t":2.7,"p":0.9,"f":0.58},{"t":2.7,"p":1.05,"f":0.43},{"t":2.7,"p":1.2,"f":0.43},{"t":2.7,"p":1.35,"f":0.41},{"t":2.7,"p":1.46,"f":0.35},{"t":2.7,"p":1.53,"f":0},
{"t":3.2,"p":0,"f":0},{"t":3.2,"p":0.15,"f":0.32},{"t":3.2,"p":0.3,"f":0.69},{"t":3.2,"p":0.45,"f":1.01},{"t":3.2,"p":0.6,"f":1.05},{"t":3.2,"p":0.75,"f":0.91},{"t":3.2,"p":0.9,"f":0.6},{"t":3.2,"p":1.05,"f":0.46},{"t":3.2,"p":1.2,"f":0.47},{"t":3.2,"p":1.35,"f":0.44},{"t":3.2,"p":1.46,"f":0.38},{"t":3.2,"p":1.53,"f":0},
{"t":4.2,"p":0,"f":0},{"t":4.2,"p":0.15,"f":0.27},{"t":4.2,"p":0.3,"f":0.58},{"t":4.2,"p":0.45,"f":0.84},{"t":4.2,"p":0.6,"f":0.93},{"t":4.2,"p":0.75,"f":0.88},{"t":4.2,"p":0.9,"f":0.69},{"t":4.2,"p":1.05,"f":0.58},{"t":4.2,"p":1.2,"f":0.58},{"t":4.2,"p":1.35,"f":0.55},{"t":4.2,"p":1.46,"f":0.46},{"t":4.2,"p":1.53,"f":0},
{"t":6.2,"p":0,"f":0},{"t":6.2,"p":0.15,"f":0.22},{"t":6.2,"p":0.3,"f":0.46},{"t":6.2,"p":0.45,"f":0.68},{"t":6.2,"p":0.6,"f":0.8},{"t":6.2,"p":0.75,"f":0.86},{"t":6.2,"p":0.9,"f":0.77},{"t":6.2,"p":1.05,"f":0.7},{"t":6.2,"p":1.2,"f":0.69},{"t":6.2,"p":1.35,"f":0.66},{"t":6.2,"p":1.46,"f":0.55},{"t":6.2,"p":1.53,"f":0},
{"t":8.2,"p":0,"f":0},{"t":8.2,"p":0.15,"f":0.17},{"t":8.2,"p":0.3,"f":0.35},{"t":8.2,"p":0.45,"f":0.52},{"t":8.2,"p":0.6,"f":0.68},{"t":8.2,"p":0.75,"f":0.83},{"t":8.2,"p":0.9,"f":0.85},{"t":8.2,"p":1.05,"f":0.82},{"t":8.2,"p":1.2,"f":0.8},{"t":8.2,"p":1.35,"f":0.77},{"t":8.2,"p":1.46,"f":0.63},{"t":8.2,"p":1.53,"f":0}
],
"g":[
{"t":0,"p":0,"f":0},{"t":0,"p":0.15,"f":0.5},{"t":0,"p":0.3,"f":1.1},{"t":0,"p":0.45,"f":1.6},{"t":0,"p":0.6,"f":1.5},{"t":0,"p":0.75,"f":1.0},{"t":0,"p":0.9,"f":0.3},{"t":0,"p":1.05,"f":0.03},{"t":0,"p":1.2,"f":0.06},{"t":0,"p":1.35,"f":0.04},{"t":0,"p":1.46,"f":0.1},{"t":0,"p":1.53,"f":0},
{"t":0.4,"p":0,"f":0},{"t":0.4,"p":0.15,"f":0.47},{"t":0.4,"p":0.3,"f":1.03},{"t":0.4,"p":0.45,"f":1.49},{"t":0.4,"p":0.6,"f":1.42},{"t":0.4,"p":0.75,"f":0.99},{"t":0.4,"p":0.9,"f":0.35},{"t":0.4,"p":1.05,"f":0.11},{"t":0.4,"p":1.2,"f":0.13},{"t":0.4,"p":1.35,"f":0.09},{"t":0.4,"p":1.46,"f":0.15},{"t":0.4,"p":1.53,"f":0},
{"t":0.8,"p":0,"f":0},{"t":0.8,"p":0.15,"f":0.43},{"t":0.8,"p":0.3,"f":0.95},{"t":0.8,"p":0.45,"f":1.38},{"t":0.8,"p":0.6,"f":1.34},{"t":0.8,"p":0.75,"f":0.97},{"t":0.8,"p":0.9,"f":0.41},{"t":0.8,"p":1.05,"f":0.18},{"t":0.8,"p":1.2,"f":0.2},{"t":0.8,"p":1.35,"f":0.15},{"t":0.8,"p":1.46,"f":0.21},{"t":0.8,"p":1.53,"f":0},
{"t":1.2,"p":0,"f":0},{"t":1.2,"p":0.15,"f":0.42},{"t":1.2,"p":0.3,"f":0.91},{"t":1.2,"p":0.45,"f":1.33},{"t":1.2,"p":0.6,"f":1.3},{"t":1.2,"p":0.75,"f":0.96},{"t":1.2,"p":0.9,"f":0.44},{"t":1.2,"p":1.05,"f":0.22},{"t":1.2,"p":1.2,"f":0.24},{"t":1.2,"p":1.35,"f":0.18},{"t":1.2,"p":1.46,"f":0.24},{"t":1.2,"p":1.53,"f":0},
{"t":1.7,"p":0,"f":0},{"t":1.7,"p":0.15,"f":0.38},{"t":1.7,"p":0.3,"f":0.84},{"t":1.7,"p":0.45,"f":1.22},{"t":1.7,"p":0.6,"f":1.22},{"t":1.7,"p":0.75,"f":0.95},{"t":1.7,"p":0.9,"f":0.49},{"t":1.7,"p":1.05,"f":0.3},{"t":1.7,"p":1.2,"f":0.31},{"t":1.7,"p":1.35,"f":0.24},{"t":1.7,"p":1.46,"f":0.29},{"t":1.7,"p":1.53,"f":0},
{"t":2.2,"p":0,"f":0},{"t":2.2,"p":0.15,"f":0.35},{"t":2.2,"p":0.3,"f":0.76},{"t":2.2,"p":0.45,"f":1.11},{"t":2.2,"p":0.6,"f":1.14},{"t":2.2,"p":0.75,"f":0.93},{"t":2.2,"p":0.9,"f":0.54},{"t":2.2,"p":1.05,"f":0.38},{"t":2.2,"p":1.2,"f":0.38},{"t":2.2,"p":1.35,"f":0.3},{"t":2.2,"p":1.46,"f":0.34},{"t":2.2,"p":1.53,"f":0},
{"t":2.7,"p":0,"f":0},{"t":2.7,"p":0.15,"f":0.34},{"t":2.7,"p":0.3,"f":0.73},{"t":2.7,"p":0.45,"f":1.06},{"t":2.7,"p":0.6,"f":1.1},{"t":2.7,"p":0.75,"f":0.93},{"t":2.7,"p":0.9,"f":0.57},{"t":2.7,"p":1.05,"f":0.42},{"t":2.7,"p":1.2,"f":0.42},{"t":2.7,"p":1.35,"f":0.34},{"t":2.7,"p":1.46,"f":0.37},{"t":2.7,"p":1.53,"f":0},
{"t":3.2,"p":0,"f":0},{"t":3.2,"p":0.15,"f":0.32},{"t":3.2,"p":0.3,"f":0.69},{"t":3.2,"p":0.45,"f":1.01},{"t":3.2,"p":0.6,"f":1.06},{"t":3.2,"p":0.75,"f":0.92},{"t":3.2,"p":0.9,"f":0.6},{"t":3.2,"p":1.05,"f":0.45},{"t":3.2,"p":1.2,"f":0.46},{"t":3.2,"p":1.35,"f":0.38},{"t":3.2,"p":1.46,"f":0.4},{"t":3.2,"p":1.53,"f":0},
{"t":4.2,"p":0,"f":0},{"t":4.2,"p":0.15,"f":0.27},{"t":4.2,"p":0.3,"f":0.58},{"t":4.2,"p":0.45,"f":0.84},{"t":4.2,"p":0.6,"f":0.94},{"t":4.2,"p":0.75,"f":0.9},{"t":4.2,"p":0.9,"f":0.68},{"t":4.2,"p":1.05,"f":0.57},{"t":4.2,"p":1.2,"f":0.56},{"t":4.2,"p":1.35,"f":0.48},{"t":4.2,"p":1.46,"f":0.48},{"t":4.2,"p":1.53,"f":0},
{"t":6.2,"p":0,"f":0},{"t":6.2,"p":0.15,"f":0.22},{"t":6.2,"p":0.3,"f":0.46},{"t":6.2,"p":0.45,"f":0.68},{"t":6.2,"p":0.6,"f":0.82},{"t":6.2,"p":0.75,"f":0.87},{"t":6.2,"p":0.9,"f":0.76},{"t":6.2,"p":1.05,"f":0.68},{"t":6.2,"p":1.2,"f":0.67},{"t":6.2,"p":1.35,"f":0.6},{"t":6.2,"p":1.46,"f":0.56},{"t":6.2,"p":1.53,"f":0},
{"t":8.2,"p":0,"f":0},{"t":8.2,"p":0.15,"f":0.17},{"t":8.2,"p":0.3,"f":0.35},{"t":8.2,"p":0.45,"f":0.52},{"t":8.2,"p":0.6,"f":0.7},{"t":8.2,"p":0.75,"f":0.85},{"t":8.2,"p":0.9,"f":0.84},{"t":8.2,"p":1.05,"f":0.8},{"t":8.2,"p":1.2,"f":0.78},{"t":8.2,"p":1.35,"f":0.75},{"t":8.2,"p":1.46,"f":0.64},{"t":8.2,"p":1.53,"f":0}
],
"h":[
{"t":0,"p":0,"f":0},{"t":0,"p":0.15,"f":0.5},{"t":0,"p":0.3,"f":1.1},{"t":0,"p":0.45,"f":1.6},{"t":0,"p":0.6,"f":1.5},{"t":0,"p":0.75,"f":1.0},{"t":0,"p":0.9,"f":0.3},{"t":0,"p":1.05,"f":0.03},{"t":0,"p":1.2,"f":0.06},{"t":0,"p":1.35,"f":0.04},{"t":0,"p":1.46,"f":0.07},{"t":0,"p":1.53,"f":0},
{"t":0.4,"p":0,"f":0},{"t":0.4,"p":0.15,"f":0.49},{"t":0.4,"p":0.3,"f":1.08},{"t":0.4,"p":0.45,"f":1.56},{"t":0.4,"p":0.6,"f":1.48},{"t":0.4,"p":0.75,"f":1.01},{"t":0.4,"p":0.9,"f":0.34},{"t":0.4,"p":1.05,"f":0.07},{"t":0.4,"p":1.2,"f":0.08},{"t":0.4,"p":1.35,"f":0.04},{"t":0.4,"p":1.46,"f":0.07},{"t":0.4,"p":1.53,"f":0},
{"t":0.8,"p":0,"f":0},{"t":0.8,"p":0.15,"f":0.48},{"t":0.8,"p":0.3,"f":1.06},{"t":0.8,"p":0.45,"f":1.52},{"t":0.8,"p":0.6,"f":1.45},{"t":0.8,"p":0.75,"f":1.02},{"t":0.8,"p":0.9,"f":0.38},{"t":0.8,"p":1.05,"f":0.11},{"t":0.8,"p":1.2,"f":0.09},{"t":0.8,"p":1.35,"f":0.05},{"t":0.8,"p":1.46,"f":0.06},{"t":0.8,"p":1.53,"f":0},
{"t":1.2,"p":0,"f":0},{"t":1.2,"p":0.15,"f":0.48},{"t":1.2,"p":0.3,"f":1.06},{"t":1.2,"p":0.45,"f":1.5},{"t":1.2,"p":0.6,"f":1.44},{"t":1.2,"p":0.75,"f":1.02},{"t":1.2,"p":0.9,"f":0.41},{"t":1.2,"p":1.05,"f":0.13},{"t":1.2,"p":1.2,"f":0.1},{"t":1.2,"p":1.35,"f":0.05},{"t":1.2,"p":1.46,"f":0.06},{"t":1.2,"p":1.53,"f":0},
{"t":1.7,"p":0,"f":0},{"t":1.7,"p":0.15,"f":0.47},{"t":1.7,"p":0.3,"f":1.04},{"t":1.7,"p":0.45,"f":1.45},{"t":1.7,"p":0.6,"f":1.41},{"t":1.7,"p":0.75,"f":1.03},{"t":1.7,"p":0.9,"f":0.45},{"t":1.7,"p":1.05,"f":0.17},{"t":1.7,"p":1.2,"f":0.12},{"t":1.7,"p":1.35,"f":0.05},{"t":1.7,"p":1.46,"f":0.06},{"t":1.7,"p":1.53,"f":0},
{"t":2.2,"p":0,"f":0},{"t":2.2,"p":0.15,"f":0.46},{"t":2.2,"p":0.3,"f":1.02},{"t":2.2,"p":0.45,"f":1.41},{"t":2.2,"p":0.6,"f":1.39},{"t":2.2,"p":0.75,"f":1.04},{"t":2.2,"p":0.9,"f":0.49},{"t":2.2,"p":1.05,"f":0.21},{"t":2.2,"p":1.2,"f":0.14},{"t":2.2,"p":1.35,"f":0.06},{"t":2.2,"p":1.46,"f":0.05},{"t":2.2,"p":1.53,"f":0},
{"t":2.7,"p":0,"f":0},{"t":2.7,"p":0.15,"f":0.46},{"t":2.7,"p":0.3,"f":1.01},{"t":2.7,"p":0.45,"f":1.39},{"t":2.7,"p":0.6,"f":1.38},{"t":2.7,"p":0.75,"f":1.04},{"t":2.7,"p":0.9,"f":0.51},{"t":2.7,"p":1.05,"f":0.24},{"t":2.7,"p":1.2,"f":0.15},{"t":2.7,"p":1.35,"f":0.06},{"t":2.7,"p":1.46,"f":0.05},{"t":2.7,"p":1.53,"f":0},
{"t":3.2,"p":0,"f":0},{"t":3.2,"p":0.15,"f":0.46},{"t":3.2,"p":0.3,"f":1.0},{"t":3.2,"p":0.45,"f":1.37},{"t":3.2,"p":0.6,"f":1.36},{"t":3.2,"p":0.75,"f":1.04},{"t":3.2,"p":0.9,"f":0.53},{"t":3.2,"p":1.05,"f":0.26},{"t":3.2,"p":1.2,"f":0.15},{"t":3.2,"p":1.35,"f":0.06},{"t":3.2,"p":1.46,"f":0.05},{"t":3.2,"p":1.53,"f":0},
{"t":4.2,"p":0,"f":0},{"t":4.2,"p":0.15,"f":0.44},{"t":4.2,"p":0.3,"f":0.97},{"t":4.2,"p":0.45,"f":1.31},{"t":4.2,"p":0.6,"f":1.33},{"t":4.2,"p":0.75,"f":1.06},{"t":4.2,"p":0.9,"f":0.59},{"t":4.2,"p":1.05,"f":0.32},{"t":4.2,"p":1.2,"f":0.18},{"t":4.2,"p":1.35,"f":0.07},{"t":4.2,"p":1.46,"f":0.04},{"t":4.2,"p":1.53,"f":0},
{"t":6.2,"p":0,"f":0},{"t":6.2,"p":0.15,"f":0.43},{"t":6.2,"p":0.3,"f":0.95},{"t":6.2,"p":0.45,"f":1.24},{"t":6.2,"p":0.6,"f":1.29},{"t":6.2,"p":0.75,"f":1.07},{"t":6.2,"p":0.9,"f":0.66},{"t":6.2,"p":1.05,"f":0.38},{"t":6.2,"p":1.2,"f":0.2},{"t":6.2,"p":1.35,"f":0.07},{"t":6.2,"p":1.46,"f":0.04},{"t":6.2,"p":1.53,"f":0},
{"t":8.2,"p":0,"f":0},{"t":8.2,"p":0.15,"f":0.42},{"t":8.2,"p":0.3,"f":0.92},{"t":8.2,"p":0.45,"f":1.18},{"t":8.2,"p":0.6,"f":1.25},{"t":8.2,"p":0.75,"f":1.08},{"t":8.2,"p":0.9,"f":0.72},{"t":8.2,"p":1.05,"f":0.44},{"t":8.2,"p":1.2,"f":0.23},{"t":8.2,"p":1.35,"f":0.08},{"t":8.2,"p":1.46,"f":0.03},{"t":8.2,"p":1.53,"f":0}
],
"en":[
{"c":"h","t":0,"E":0.3},{"c":"h","t":1,"E":0.319},{"c":"h","t":2,"E":0.338},{"c":"h","t":3,"E":0.357},{"c":"h","t":4,"E":0.376},{"c":"h","t":5,"E":0.395},{"c":"h","t":6,"E":0.414},{"c":"h","t":7,"E":0.433},{"c":"h","t":8.3,"E":0.46},
{"c":"g","t":0,"E":0.3},{"c":"g","t":1,"E":0.425},{"c":"g","t":2,"E":0.525},{"c":"g","t":3,"E":0.615},{"c":"g","t":4,"E":0.69},{"c":"g","t":5,"E":0.75},{"c":"g","t":6,"E":0.8},{"c":"g","t":7,"E":0.845},{"c":"g","t":8.3,"E":0.89},
{"c":"f","t":0,"E":0.3},{"c":"f","t":1,"E":0.445},{"c":"f","t":2,"E":0.562},{"c":"f","t":3,"E":0.655},{"c":"f","t":4,"E":0.728},{"c":"f","t":5,"E":0.79},{"c":"f","t":6,"E":0.84},{"c":"f","t":7,"E":0.885},{"c":"f","t":8.3,"E":0.94},
{"c":"e","t":0,"E":0.3},{"c":"e","t":1,"E":0.405},{"c":"e","t":2,"E":0.494},{"c":"e","t":3,"E":0.585},{"c":"e","t":4,"E":0.67},{"c":"e","t":5,"E":0.72},{"c":"e","t":6,"E":0.77},{"c":"e","t":7,"E":0.81},{"c":"e","t":8.3,"E":0.856},
{"c":"d","t":0,"E":0.3},{"c":"d","t":1,"E":0.42},{"c":"d","t":2,"E":0.52},{"c":"d","t":3,"E":0.61},{"c":"d","t":4,"E":0.685},{"c":"d","t":5,"E":0.745},{"c":"d","t":6,"E":0.8},{"c":"d","t":7,"E":0.84},{"c":"d","t":8.3,"E":0.885},
{"c":"c","t":0,"E":0.3},{"c":"c","t":1,"E":0.445},{"c":"c","t":2,"E":0.565},{"c":"c","t":3,"E":0.66},{"c":"c","t":4,"E":0.735},{"c":"c","t":5,"E":0.8},{"c":"c","t":6,"E":0.85},{"c":"c","t":7,"E":0.9},{"c":"c","t":8.3,"E":0.965},
{"c":"b","t":0,"E":0.3},{"c":"b","t":1,"E":0.44},{"c":"b","t":2,"E":0.557},{"c":"b","t":3,"E":0.645},{"c":"b","t":4,"E":0.716},{"c":"b","t":5,"E":0.77},{"c":"b","t":6,"E":0.82},{"c":"b","t":7,"E":0.855},{"c":"b","t":8.3,"E":0.895}
],
"ea":[
{"t":0,"E":0.3,"lo":0.295,"hi":0.305},{"t":0.2,"E":0.327,"lo":0.319,"hi":0.335},{"t":0.4,"E":0.358,"lo":0.35,"hi":0.366},{"t":0.6,"E":0.385,"lo":0.377,"hi":0.393},{"t":0.8,"E":0.414,"lo":0.406,"hi":0.422},{"t":1,"E":0.438,"lo":0.43,"hi":0.446},{"t":1.2,"E":0.454,"lo":0.446,"hi":0.462},{"t":1.45,"E":0.499,"lo":0.489,"hi":0.509},{"t":1.7,"E":0.526,"lo":0.516,"hi":0.536},{"t":1.95,"E":0.565,"lo":0.555,"hi":0.575},{"t":2.2,"E":0.581,"lo":0.571,"hi":0.591},{"t":2.45,"E":0.597,"lo":0.587,"hi":0.607},{"t":2.7,"E":0.644,"lo":0.624,"hi":0.664},{"t":2.95,"E":0.657,"lo":0.645,"hi":0.669},{"t":3.2,"E":0.684,"lo":0.672,"hi":0.696},{"t":3.7,"E":0.724,"lo":0.709,"hi":0.739},{"t":4.2,"E":0.756,"lo":0.741,"hi":0.771},{"t":5.2,"E":0.803,"lo":0.766,"hi":0.84},{"t":6.2,"E":0.856,"lo":0.81,"hi":0.902},{"t":7.2,"E":0.851,"lo":0.831,"hi":0.871},{"t":8.2,"E":0.877,"lo":0.857,"hi":0.897}
],
"an":[
{"c":"h","t":0,"N":145000},{"c":"h","t":8.3,"N":69000},
{"c":"g","t":0,"N":145000},{"c":"g","t":8.3,"N":22300},
{"c":"f","t":0,"N":145000},{"c":"f","t":8.3,"N":37300},
{"c":"e","t":0,"N":145000},{"c":"e","t":8.3,"N":18500},
{"c":"d","t":0,"N":145000},{"c":"d","t":8.3,"N":20000},
{"c":"c","t":0,"N":145000},{"c":"c","t":8.3,"N":20500},
{"c":"b","t":0,"N":145000},{"c":"b","t":8.3,"N":19200}
],
"aa":[
{"t":0,"N":149000},{"t":0.2,"N":147000},{"t":0.4,"N":132000},{"t":0.6,"N":120000},{"t":0.8,"N":119000},{"t":1,"N":118000},{"t":1.2,"N":110000},{"t":1.45,"N":111000},{"t":1.7,"N":100000},{"t":1.95,"N":97000},{"t":2.2,"N":87000},{"t":2.45,"N":81000},{"t":2.7,"N":78000},{"t":2.95,"N":72000},{"t":3.2,"N":67000},{"t":3.7,"N":61000},{"t":4.2,"N":51000},{"t":5.2,"N":39000},{"t":6.2,"N":31600},{"t":7.2,"N":22900},{"t":8.2,"N":18500}
],
"ey":[
{"v":0.2,"lab":"0.2"},{"v":0.4,"lab":"0.4"},{"v":0.6,"lab":"0.6"},{"v":0.8,"lab":"0.8"},{"v":1,"lab":"1"}
],
"lt":[
{"k":0,"t":0,"lab":"0"},{"k":1,"t":0.2,"lab":""},{"k":2,"t":0.4,"lab":"0.4"},{"k":3,"t":0.6,"lab":""},{"k":4,"t":0.8,"lab":"0.8"},{"k":5,"t":1,"lab":""},{"k":6,"t":1.2,"lab":"1.2"},{"k":7,"t":1.45,"lab":""},{"k":8,"t":1.7,"lab":"1.7"},{"k":9,"t":1.95,"lab":""},{"k":10,"t":2.2,"lab":"2.2"},{"k":11,"t":2.45,"lab":""},{"k":12,"t":2.7,"lab":"2.7"},{"k":13,"t":2.95,"lab":""},{"k":14,"t":3.2,"lab":"3.2"},{"k":15,"t":3.7,"lab":""},{"k":16,"t":4.2,"lab":"4.2"},{"k":17,"t":5.2,"lab":""},{"k":18,"t":6.2,"lab":"6.2"},{"k":19,"t":7.2,"lab":""},{"k":20,"t":8.2,"lab":"8.2"}
],
"lc":[
{"c":"a","i":0,"lab":"case (a)"},{"c":"b","i":1,"lab":"case (b)"},{"c":"c","i":2,"lab":"case (c)"},{"c":"d","i":3,"lab":"case (d)"},{"c":"e","i":4,"lab":"case (e)"},{"c":"f","i":5,"lab":"case (f)"},{"c":"g","i":6,"lab":"case (g)"},{"c":"h","i":7,"lab":"case (h)"}
]
},
"spacing":8,
"hconcat":[
{"vconcat":[
{"width":1,"height":9,"view":{"stroke":null},"data":{"values":[{"v":""}]},"mark":{"type":"text"},"encoding":{"text":{"field":"v"}}},
{"concat":[
  {"width":121,"height":129,"data":{"name":"a"},"layer":[
   {"mark":{"type":"line","strokeWidth":1.4,"clip":true},"encoding":{
    "x":{"field":"p","type":"quantitative","scale":{"domain":[0,1.55],"nice":false,"zero":false},"axis":{"orient":"top","values":[0,0.5,1,1.5],"format":"~g","labelPadding":3,"labelFlush":true,"title":"p₀ /2ħk","titleFontStyle":"italic","titlePadding":4}},
    "y":{"field":"f","type":"quantitative","scale":{"domain":[0,1.88],"nice":false,"zero":false},"axis":{"values":[0,0.5,1,1.5],"format":"~g","labelPadding":9.5,"labelFlush":true,"title":"f(p₀)","titleAngle":0,"titleAlign":"right","titleBaseline":"middle","titleX":-24,"titleY":52,"titleFontStyle":"italic"}},
    "color":{"field":"t","type":"ordinal","scale":{"domain":[0,0.2,0.4,0.6,0.8,1,1.2,1.45,1.7,1.95,2.2,2.45,2.7,2.95,3.2,3.7,4.2,5.2,6.2,7.2,8.2],"range":["#0a0ad0","#0020e8","#0038ff","#0058ff","#0078ff","#0098ff","#00b8ff","#10d8f8","#30f0e0","#50f8c0","#70ff98","#98ff70","#c0ff40","#e0f020","#ffd800","#ffb000","#ff8800","#ff6000","#ff3800","#f01800","#d81010"]},"legend":null}}},
   {"data":{"values":[{"lab":"(a)"}]},"mark":{"type":"text","align":"left","baseline":"middle","dx":4,"dy":17,"fontSize":14},"encoding":{"x":{"datum":0,"type":"quantitative"},"y":{"datum":1.88,"type":"quantitative"},"text":{"field":"lab"}}}
  ]},
  {"width":121,"height":129,"data":{"name":"b"},"layer":[
   {"mark":{"type":"line","strokeWidth":1.4,"clip":true},"encoding":{
    "x":{"field":"p","type":"quantitative","scale":{"domain":[0,1.55],"nice":false,"zero":false},"axis":{"values":[0.5,1],"labels":false,"title":null}},
    "y":{"field":"f","type":"quantitative","scale":{"domain":[0,1.88],"nice":false,"zero":false},"axis":{"values":[0.5,1,1.5],"labels":false,"title":null}},
    "color":{"field":"t","type":"ordinal","scale":{"domain":[0,0.2,0.4,0.6,0.8,1,1.2,1.45,1.7,1.95,2.2,2.45,2.7,2.95,3.2,3.7,4.2,5.2,6.2,7.2,8.2],"range":["#0a0ad0","#0020e8","#0038ff","#0058ff","#0078ff","#0098ff","#00b8ff","#10d8f8","#30f0e0","#50f8c0","#70ff98","#98ff70","#c0ff40","#e0f020","#ffd800","#ffb000","#ff8800","#ff6000","#ff3800","#f01800","#d81010"]},"legend":null}}},
   {"data":{"values":[{"lab":"(b)"}]},"mark":{"type":"text","align":"left","baseline":"middle","dx":4,"dy":17,"fontSize":14},"encoding":{"x":{"datum":0,"type":"quantitative"},"y":{"datum":1.88,"type":"quantitative"},"text":{"field":"lab"}}}
  ]},
  {"width":121,"height":129,"data":{"name":"c"},"layer":[
   {"mark":{"type":"line","strokeWidth":1.4,"clip":true},"encoding":{
    "x":{"field":"p","type":"quantitative","scale":{"domain":[0,1.55],"nice":false,"zero":false},"axis":{"values":[0.5,1],"labels":false,"title":null}},
    "y":{"field":"f","type":"quantitative","scale":{"domain":[0,1.88],"nice":false,"zero":false},"axis":{"values":[0.5,1,1.5],"labels":false,"title":null}},
    "color":{"field":"t","type":"ordinal","scale":{"domain":[0,0.2,0.4,0.6,0.8,1,1.2,1.45,1.7,1.95,2.2,2.45,2.7,2.95,3.2,3.7,4.2,5.2,6.2,7.2,8.2],"range":["#0a0ad0","#0020e8","#0038ff","#0058ff","#0078ff","#0098ff","#00b8ff","#10d8f8","#30f0e0","#50f8c0","#70ff98","#98ff70","#c0ff40","#e0f020","#ffd800","#ffb000","#ff8800","#ff6000","#ff3800","#f01800","#d81010"]},"legend":null}}},
   {"data":{"values":[{"lab":"(c)"}]},"mark":{"type":"text","align":"left","baseline":"middle","dx":4,"dy":17,"fontSize":14},"encoding":{"x":{"datum":0,"type":"quantitative"},"y":{"datum":1.88,"type":"quantitative"},"text":{"field":"lab"}}}
  ]},
  {"width":121,"height":129,"data":{"name":"d"},"layer":[
   {"mark":{"type":"line","strokeWidth":1.4,"clip":true},"encoding":{
    "x":{"field":"p","type":"quantitative","scale":{"domain":[0,1.55],"nice":false,"zero":false},"axis":{"values":[0.5,1],"labels":false,"title":null}},
    "y":{"field":"f","type":"quantitative","scale":{"domain":[0,1.88],"nice":false,"zero":false},"axis":{"values":[0.5,1,1.5],"labels":false,"title":null}},
    "color":{"field":"t","type":"ordinal","scale":{"domain":[0,0.2,0.4,0.6,0.8,1,1.2,1.45,1.7,1.95,2.2,2.45,2.7,2.95,3.2,3.7,4.2,5.2,6.2,7.2,8.2],"range":["#0a0ad0","#0020e8","#0038ff","#0058ff","#0078ff","#0098ff","#00b8ff","#10d8f8","#30f0e0","#50f8c0","#70ff98","#98ff70","#c0ff40","#e0f020","#ffd800","#ffb000","#ff8800","#ff6000","#ff3800","#f01800","#d81010"]},"legend":null}}},
   {"data":{"values":[{"lab":"(d)"}]},"mark":{"type":"text","align":"left","baseline":"middle","dx":4,"dy":17,"fontSize":14},"encoding":{"x":{"datum":0,"type":"quantitative"},"y":{"datum":1.88,"type":"quantitative"},"text":{"field":"lab"}}}
  ]},
  {"width":121,"height":129,"data":{"name":"e"},"layer":[
   {"mark":{"type":"line","strokeWidth":1.4,"clip":true},"encoding":{
    "x":{"field":"p","type":"quantitative","scale":{"domain":[0,1.55],"nice":false,"zero":false},"axis":{"values":[0.5,1],"labels":false,"title":null}},
    "y":{"field":"f","type":"quantitative","scale":{"domain":[0,1.88],"nice":false,"zero":false},"axis":{"values":[0.5,1,1.5],"labels":false,"title":null}},
    "color":{"field":"t","type":"ordinal","scale":{"domain":[0,0.2,0.4,0.6,0.8,1,1.2,1.45,1.7,1.95,2.2,2.45,2.7,2.95,3.2,3.7,4.2,5.2,6.2,7.2,8.2],"range":["#0a0ad0","#0020e8","#0038ff","#0058ff","#0078ff","#0098ff","#00b8ff","#10d8f8","#30f0e0","#50f8c0","#70ff98","#98ff70","#c0ff40","#e0f020","#ffd800","#ffb000","#ff8800","#ff6000","#ff3800","#f01800","#d81010"]},"legend":null}}},
   {"data":{"values":[{"lab":"(e)"}]},"mark":{"type":"text","align":"left","baseline":"middle","dx":4,"dy":17,"fontSize":14},"encoding":{"x":{"datum":0,"type":"quantitative"},"y":{"datum":1.88,"type":"quantitative"},"text":{"field":"lab"}}}
  ]},
  {"width":121,"height":129,"data":{"name":"f"},"layer":[
   {"mark":{"type":"line","strokeWidth":1.4,"clip":true},"encoding":{
    "x":{"field":"p","type":"quantitative","scale":{"domain":[0,1.55],"nice":false,"zero":false},"axis":{"values":[0.5,1],"labels":false,"title":null}},
    "y":{"field":"f","type":"quantitative","scale":{"domain":[0,1.88],"nice":false,"zero":false},"axis":{"values":[0.5,1,1.5],"labels":false,"title":null}},
    "color":{"field":"t","type":"ordinal","scale":{"domain":[0,0.2,0.4,0.6,0.8,1,1.2,1.45,1.7,1.95,2.2,2.45,2.7,2.95,3.2,3.7,4.2,5.2,6.2,7.2,8.2],"range":["#0a0ad0","#0020e8","#0038ff","#0058ff","#0078ff","#0098ff","#00b8ff","#10d8f8","#30f0e0","#50f8c0","#70ff98","#98ff70","#c0ff40","#e0f020","#ffd800","#ffb000","#ff8800","#ff6000","#ff3800","#f01800","#d81010"]},"legend":null}}},
   {"data":{"values":[{"lab":"(f)"}]},"mark":{"type":"text","align":"left","baseline":"middle","dx":4,"dy":17,"fontSize":14},"encoding":{"x":{"datum":0,"type":"quantitative"},"y":{"datum":1.88,"type":"quantitative"},"text":{"field":"lab"}}}
  ]},
  {"width":121,"height":129,"data":{"name":"g"},"layer":[
   {"mark":{"type":"line","strokeWidth":1.4,"clip":true},"encoding":{
    "x":{"field":"p","type":"quantitative","scale":{"domain":[0,1.55],"nice":false,"zero":false},"axis":{"values":[0.5,1],"labels":false,"title":null}},
    "y":{"field":"f","type":"quantitative","scale":{"domain":[0,1.88],"nice":false,"zero":false},"axis":{"values":[0.5,1,1.5],"labels":false,"title":null}},
    "color":{"field":"t","type":"ordinal","scale":{"domain":[0,0.2,0.4,0.6,0.8,1,1.2,1.45,1.7,1.95,2.2,2.45,2.7,2.95,3.2,3.7,4.2,5.2,6.2,7.2,8.2],"range":["#0a0ad0","#0020e8","#0038ff","#0058ff","#0078ff","#0098ff","#00b8ff","#10d8f8","#30f0e0","#50f8c0","#70ff98","#98ff70","#c0ff40","#e0f020","#ffd800","#ffb000","#ff8800","#ff6000","#ff3800","#f01800","#d81010"]},"legend":null}}},
   {"data":{"values":[{"lab":"(g)"}]},"mark":{"type":"text","align":"left","baseline":"middle","dx":4,"dy":17,"fontSize":14},"encoding":{"x":{"datum":0,"type":"quantitative"},"y":{"datum":1.88,"type":"quantitative"},"text":{"field":"lab"}}}
  ]},
  {"width":121,"height":129,"data":{"name":"h"},"layer":[
   {"mark":{"type":"line","strokeWidth":1.4,"clip":true},"encoding":{
    "x":{"field":"p","type":"quantitative","scale":{"domain":[0,1.55],"nice":false,"zero":false},"axis":{"values":[0.5,1],"labels":false,"title":null}},
    "y":{"field":"f","type":"quantitative","scale":{"domain":[0,1.88],"nice":false,"zero":false},"axis":{"values":[0.5,1,1.5],"labels":false,"title":null}},
    "color":{"field":"t","type":"ordinal","scale":{"domain":[0,0.2,0.4,0.6,0.8,1,1.2,1.45,1.7,1.95,2.2,2.45,2.7,2.95,3.2,3.7,4.2,5.2,6.2,7.2,8.2],"range":["#0a0ad0","#0020e8","#0038ff","#0058ff","#0078ff","#0098ff","#00b8ff","#10d8f8","#30f0e0","#50f8c0","#70ff98","#98ff70","#c0ff40","#e0f020","#ffd800","#ffb000","#ff8800","#ff6000","#ff3800","#f01800","#d81010"]},"legend":null}}},
   {"data":{"values":[{"lab":"(h)"}]},"mark":{"type":"text","align":"left","baseline":"middle","dx":4,"dy":17,"fontSize":14},"encoding":{"x":{"datum":0,"type":"quantitative"},"y":{"datum":1.88,"type":"quantitative"},"text":{"field":"lab"}}}
  ]}
],"columns":4,"spacing":0,"bounds":"flush"}
],"spacing":0,"bounds":"flush"},
{"width":78,"height":240,"view":{"stroke":null},"data":{"name":"lt"},"layer":[
 {"mark":{"type":"rule","strokeWidth":1.6},"encoding":{
  "x":{"datum":0.03,"type":"quantitative","scale":{"domain":[0,1],"nice":false,"zero":false},"axis":null},
  "x2":{"datum":0.38},
  "y":{"field":"k","type":"quantitative","scale":{"domain":[-10.59,20.78],"nice":false,"zero":false,"reverse":true},"axis":null},
  "color":{"field":"t","type":"ordinal","scale":{"domain":[0,0.2,0.4,0.6,0.8,1,1.2,1.45,1.7,1.95,2.2,2.45,2.7,2.95,3.2,3.7,4.2,5.2,6.2,7.2,8.2],"range":["#0a0ad0","#0020e8","#0038ff","#0058ff","#0078ff","#0098ff","#00b8ff","#10d8f8","#30f0e0","#50f8c0","#70ff98","#98ff70","#c0ff40","#e0f020","#ffd800","#ffb000","#ff8800","#ff6000","#ff3800","#f01800","#d81010"]},"legend":null}}},
 {"mark":{"type":"text","align":"left","baseline":"middle","fontSize":12.5},"encoding":{"x":{"datum":0.44,"type":"quantitative"},"y":{"field":"k","type":"quantitative"},"text":{"field":"lab"}}},
 {"data":{"values":[{"lab":"time (s)"}]},"mark":{"type":"text","align":"left","baseline":"middle","fontSize":14},"encoding":{"x":{"datum":0,"type":"quantitative"},"y":{"datum":-2.22,"type":"quantitative"},"text":{"field":"lab"}}}
]},
{"vconcat":[
 {"width":241,"height":101,"title":{"text":"Energy (units of 4 Eᵣ)","fontSize":15,"offset":-2},"layer":[
  {"data":{"name":"en"},"mark":{"type":"line","clip":true},"encoding":{
   "x":{"field":"t","type":"quantitative","scale":{"domain":[-0.3,8.45],"nice":false,"zero":false},"axis":{"values":[0,2,4,6,8],"labelPadding":6,"labelFlush":false,"title":"time (s)","titlePadding":0}},
   "y":{"field":"E","type":"quantitative","scale":{"domain":[0.2,1],"nice":false,"zero":false},"axis":{"values":[0.2,0.4,0.6,0.8,1],"labels":false,"title":null}},
   "stroke":{"field":"c","type":"nominal","scale":{"domain":["b","c","d","e","f","g","h"],"range":["#000000","#3cf0dc","#a8e020","#f02020","#20a8ff","#ff8020","#1a1aff"]},"legend":null},
   "strokeWidth":{"field":"c","type":"nominal","scale":{"domain":["b","c","d","e","f","g","h"],"range":[2.8,1.6,1.6,1.6,1.6,1.6,1.6]},"legend":null}}},
  {"data":{"name":"ea"},"mark":{"type":"rule","color":"#000","strokeWidth":1},"encoding":{"x":{"field":"t","type":"quantitative","title":null},"y":{"field":"lo","type":"quantitative","title":null},"y2":{"field":"hi"}}},
  {"data":{"name":"ea"},"mark":{"type":"tick","orient":"horizontal","size":5,"thickness":1,"color":"#000","opacity":1},"encoding":{"x":{"field":"t","type":"quantitative","title":null},"y":{"field":"lo","type":"quantitative","title":null}}},
  {"data":{"name":"ea"},"mark":{"type":"tick","orient":"horizontal","size":5,"thickness":1,"color":"#000","opacity":1},"encoding":{"x":{"field":"t","type":"quantitative","title":null},"y":{"field":"hi","type":"quantitative","title":null}}},
  {"data":{"name":"ea"},"mark":{"type":"square","size":24,"color":"#000","opacity":1,"filled":true},"encoding":{"x":{"field":"t","type":"quantitative","title":null},"y":{"field":"E","type":"quantitative","title":null}}},
  {"data":{"name":"ey"},"mark":{"type":"text","align":"right","baseline":"middle","dx":-6,"fontSize":14},"encoding":{"x":{"datum":-0.3,"type":"quantitative"},"y":{"field":"v","type":"quantitative","title":null},"text":{"field":"lab"}}},
  {"data":{"values":[{"lab":"(i)"}]},"mark":{"type":"text","align":"left","baseline":"middle","dx":4,"dy":16,"fontSize":14},"encoding":{"x":{"datum":-0.3,"type":"quantitative"},"y":{"datum":1,"type":"quantitative"},"text":{"field":"lab"}}}
 ]},
 {"width":241,"height":102,"title":{"text":"Total atom number","fontSize":15,"offset":3},"layer":[
  {"data":{"name":"an"},"mark":{"type":"line","clip":true},"encoding":{
   "x":{"field":"t","type":"quantitative","scale":{"domain":[-0.3,8.45],"nice":false,"zero":false},"axis":{"values":[0,2,4,6,8],"labelPadding":6,"labelFlush":false,"title":"time (s)","titlePadding":0}},
   "y":{"field":"N","type":"quantitative","scale":{"type":"log","domain":[9600,160000],"nice":false},"axis":{"values":[10000,20000,30000,40000,50000,60000,70000,80000,90000,100000],"labelExpr":"datum.value==100000?'10⁵':(datum.value==10000?'10⁴':'')","labelPadding":8,"labelFlush":false,"labelOverlap":false,"title":null}},
   "stroke":{"field":"c","type":"nominal","scale":{"domain":["b","c","d","e","f","g","h"],"range":["#000000","#3cf0dc","#a8e020","#f02020","#20a8ff","#ff8020","#1a1aff"]},"legend":null},
   "strokeWidth":{"field":"c","type":"nominal","scale":{"domain":["b","c","d","e","f","g","h"],"range":[2.8,1.6,1.6,1.6,1.6,1.6,1.6]},"legend":null}}},
  {"data":{"name":"aa"},"mark":{"type":"square","size":24,"color":"#000","opacity":1,"filled":true},"encoding":{"x":{"field":"t","type":"quantitative"},"y":{"field":"N","type":"quantitative","title":null}}},
  {"data":{"values":[{"lab":"(j)"}]},"mark":{"type":"text","align":"left","baseline":"middle","dx":4,"dy":-13,"fontSize":14},"encoding":{"x":{"datum":-0.3,"type":"quantitative"},"y":{"datum":9600,"type":"quantitative"},"text":{"field":"lab"}}}
 ]}
],"spacing":4,"bounds":"full"},
{"width":55,"height":220,"view":{"stroke":null},"data":{"name":"lc"},"layer":[
 {"transform":[{"filter":"datum.c!='a'"}],"mark":{"type":"rule"},"encoding":{
  "x":{"datum":0.27,"type":"quantitative","scale":{"domain":[0,1],"nice":false,"zero":false},"axis":null},
  "x2":{"datum":0.76},
  "y":{"field":"i","type":"quantitative","scale":{"domain":[-0.627,8.103],"nice":false,"zero":false,"reverse":true},"axis":null},
  "stroke":{"field":"c","type":"nominal","scale":{"domain":["b","c","d","e","f","g","h"],"range":["#000000","#3cf0dc","#a8e020","#f02020","#20a8ff","#ff8020","#1a1aff"]},"legend":null},
  "strokeWidth":{"field":"c","type":"nominal","scale":{"domain":["b","c","d","e","f","g","h"],"range":[2.8,1.6,1.6,1.6,1.6,1.6,1.6]},"legend":null}}},
 {"mark":{"type":"text","align":"center","baseline":"middle","dy":12,"fontSize":13.5},"encoding":{"x":{"datum":0.49,"type":"quantitative"},"y":{"field":"i","type":"quantitative"},"text":{"field":"lab"}}},
 {"data":{"values":[{"c":"a"}]},"mark":{"type":"square","size":22,"color":"#000","opacity":1,"filled":true},"encoding":{"x":{"datum":0.55,"type":"quantitative"},"y":{"datum":-0.23,"type":"quantitative"}}}
]}
]
}
